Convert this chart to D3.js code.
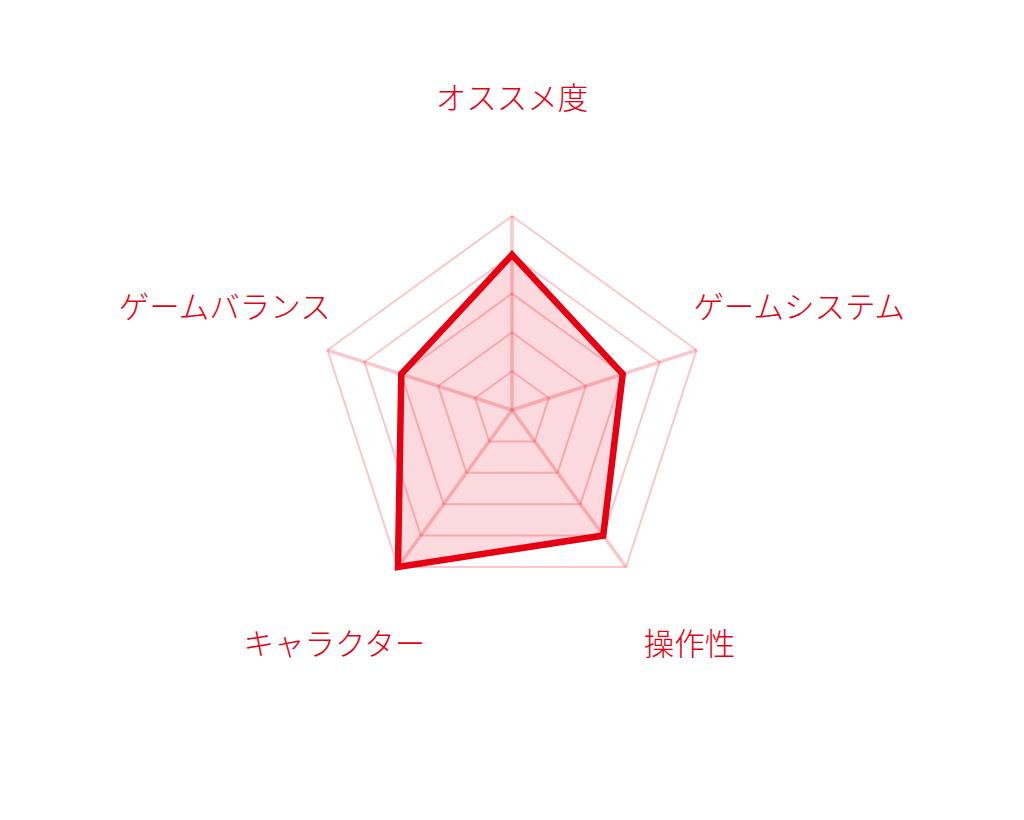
<!DOCTYPE html>
<html>
<head>
<meta charset="utf-8">
<script src="https://cdn.jsdelivr.net/npm/d3@7"></script>
<style>
  html, body { margin: 0; padding: 0; background: #fff; }
  svg { display: block; }
</style>
</head>
<body>
<div id="chart"></div>
<script>
// chart data
const labels = ["オススメ度", "ゲームシステム", "操作性", "キャラクター", "ゲームバランス"];
const values = [4, 3, 4, 5, 3];
const levels = [1, 2, 3, 4, 5];
const maxValue = 5;

const width = 1024;
const height = 820;
const cx = 512;
const cy = 410;
const radius = 194;
const labelRadius = 302;
const red = "#e60012";

const svg = d3.select("#chart")
              .append("svg")
              .attr("width", width)
              .attr("height", height);

const rScale = d3.scaleLinear()
                 .domain([0, maxValue])
                 .range([0, radius]);

// angle of each axis, first one pointing up, going clockwise
const angle = i => -Math.PI / 2 + i * 2 * Math.PI / labels.length;

const point = (v, i) => [cx + rScale(v) * Math.cos(angle(i)), cy + rScale(v) * Math.sin(angle(i))];

const line = d3.line().curve(d3.curveLinearClosed);

// grid rings
svg.append("g")
   .selectAll("path")
   .data(levels)
   .join("path")
   .attr("d", lv => line(labels.map((l, i) => point(lv, i))))
   .attr("fill", "none")
   .attr("stroke", red)
   .attr("stroke-opacity", 0.22)
   .attr("stroke-width", 2);

// spokes
svg.append("g")
   .selectAll("line")
   .data(labels)
   .join("line")
   .attr("x1", cx)
   .attr("y1", cy)
   .attr("x2", (d, i) => point(maxValue, i)[0])
   .attr("y2", (d, i) => point(maxValue, i)[1])
   .attr("stroke", red)
   .attr("stroke-opacity", 0.22)
   .attr("stroke-width", 3.5);

// data area
svg.append("path")
   .datum(values)
   .attr("d", d => line(d.map((v, i) => point(v, i))))
   .attr("fill", red)
   .attr("fill-opacity", 0.15)
   .attr("stroke", red)
   .attr("stroke-width", 6.5)
   .attr("stroke-linejoin", "miter");

// axis labels
svg.append("g")
   .selectAll("text")
   .data(labels)
   .join("text")
   .attr("x", (d, i) => cx + labelRadius * Math.cos(angle(i)))
   .attr("y", (d, i) => cy + labelRadius * Math.sin(angle(i)) - 12)
   .attr("text-anchor", "middle")
   .attr("dominant-baseline", "central")
   .attr("fill", red)
   .style("font-family", "'Noto Sans CJK JP', sans-serif")
   .style("font-size", "30.5px")
   .style("font-weight", 300)
   .text(d => d);
</script>
</body>
</html>
